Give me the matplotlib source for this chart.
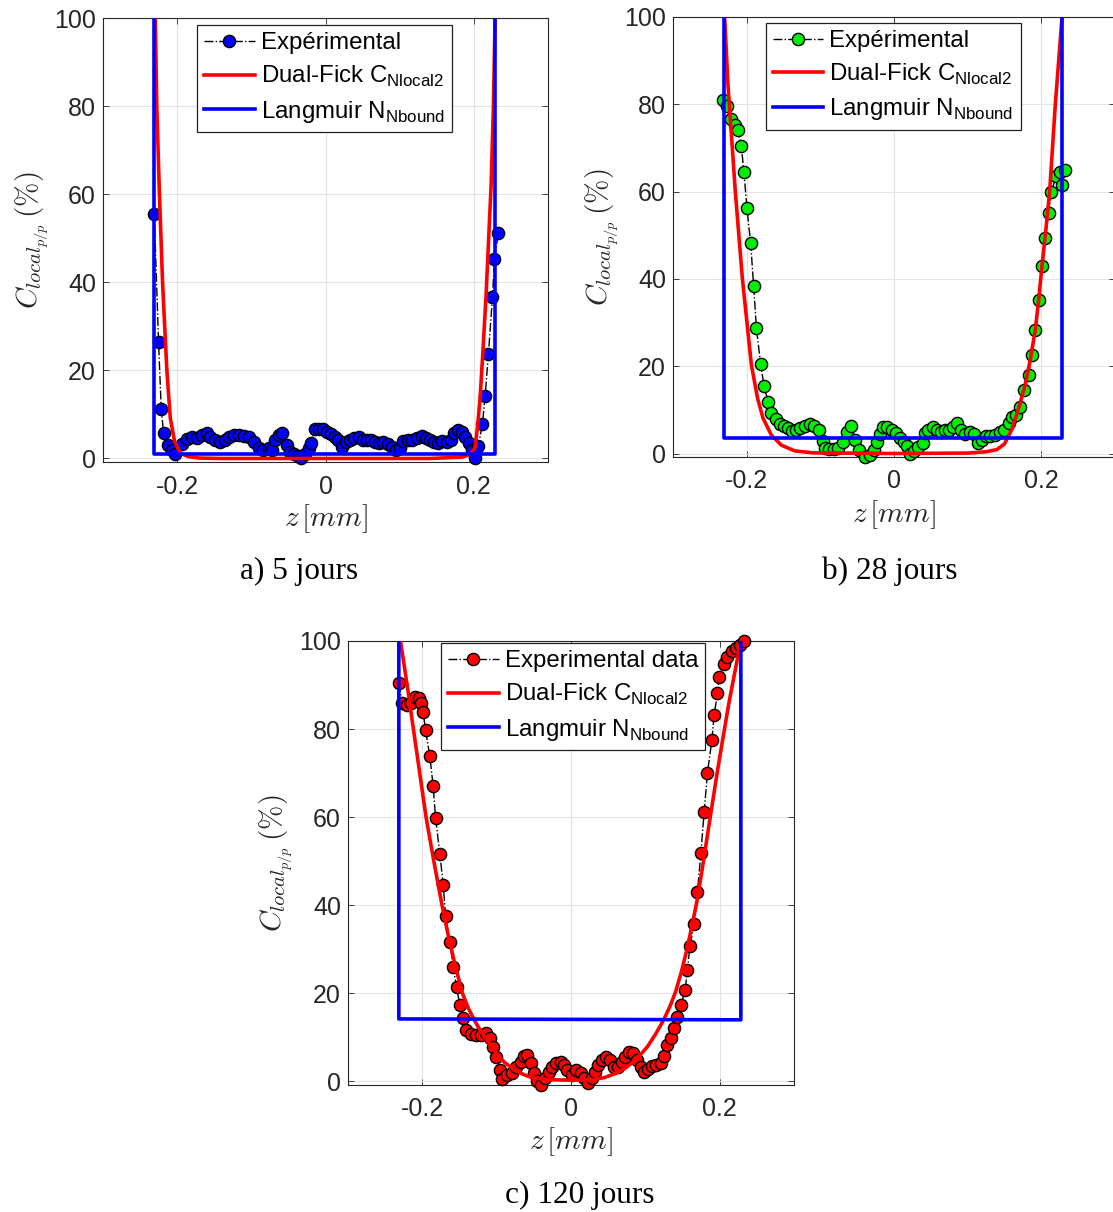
import matplotlib
matplotlib.use('Agg')
import matplotlib.pyplot as plt
from matplotlib.font_manager import FontProperties

plt.rcParams['font.family'] = ['Liberation Sans', 'DejaVu Sans']
plt.rcParams['axes.unicode_minus'] = False

# ---------------- data: a) 5 jours ----------------
z_exp_5 = [-0.2309, -0.2251, -0.2215, -0.2183, -0.2125, -0.2071, -0.2025, -0.1936, -0.1869, -0.1801,
           -0.1734, -0.1667, -0.1600, -0.1554, -0.1487, -0.1419, -0.1361, -0.1307, -0.1240, -0.1173,
           -0.1105, -0.1038, -0.0970, -0.0903, -0.0836, -0.0768, -0.0723, -0.0678, -0.0633, -0.0580,
           -0.0521, -0.0476, -0.0418, -0.0373, -0.0327, -0.0274, -0.0229, -0.0193, -0.0148, -0.0094,
           -0.0040, 0.0018, 0.0077, 0.0131, 0.0175, 0.0229, 0.0274, 0.0333, 0.0391, 0.0445,
           0.0499, 0.0557, 0.0616, 0.0670, 0.0724, 0.0782, 0.0840, 0.0894, 0.0948, 0.1007,
           0.1051, 0.1110, 0.1164, 0.1231, 0.1298, 0.1352, 0.1411, 0.1469, 0.1523, 0.1577,
           0.1635, 0.1694, 0.1739, 0.1792, 0.1846, 0.1883, 0.1937, 0.1972, 0.2018, 0.2062,
           0.2116, 0.2152, 0.2197, 0.2251, 0.2278, 0.2332]
c_exp_5 = [55.5, 26.4, 11.3, 5.7, 3.0, 1.9, 1.1, 3.4, 4.5, 4.9,
           4.7, 5.3, 5.7, 4.9, 4.1, 3.8, 4.3, 4.9, 5.3, 5.3,
           5.1, 4.9, 3.8, 2.4, 2.0, 2.4, 2.0, 4.3, 5.3, 5.7,
           3.0, 1.5, 1.0, 0.5, 0.0, 1.1, 2.3, 3.5, 6.6, 6.8,
           6.6, 6.0, 5.5, 4.9, 4.1, 2.6, 3.8, 4.3, 4.7, 4.9,
           4.3, 4.1, 4.3, 3.8, 3.5, 3.8, 3.2, 2.6, 1.9, 2.3,
           4.0, 4.3, 4.1, 4.7, 5.0, 4.7, 4.3, 3.8, 3.5, 4.0,
           3.8, 4.3, 5.7, 6.4, 6.0, 4.9, 3.5, 1.9, 0.0, 2.8,
           7.9, 14.1, 23.8, 36.6, 45.4, 51.3]
z_fick_5 = [-0.2295, -0.2275, -0.2241, -0.2197, -0.2139, -0.2093, -0.2035, -0.1958, -0.1846, -0.1700,
            -0.1400, 0.0, 0.1400, 0.1840, 0.1950, 0.2017, 0.2053, 0.2085, 0.2120, 0.2165,
            0.2200, 0.2233, 0.2264, 0.2287]
c_fick_5 = [100, 80, 61, 40, 20, 9.2, 3.9, 1.2, 0.4, 0.1,
            0.0, 0.0, 0.0, 0.3, 0.9, 2.5, 7.7, 13.9, 23.6, 37,
            50, 62, 80, 100]
z_lang_5 = [-0.231, -0.231, 0.228, 0.228]
c_lang_5 = [100, 1.0, 1.0, 100]

# ---------------- data: b) 28 jours ----------------
z_exp_28 = [-0.2322, -0.2263, -0.2218, -0.2163, -0.2118, -0.2072, -0.2037, -0.1996, -0.1946, -0.1905,
            -0.1868, -0.1810, -0.1765, -0.1710, -0.1664, -0.1605, -0.1550, -0.1497, -0.1438, -0.1378,
            -0.1324, -0.1270, -0.1211, -0.1143, -0.1088, -0.1016, -0.0970, -0.0939, -0.0880, -0.0816,
            -0.0758, -0.0690, -0.0635, -0.0585, -0.0530, -0.0472, -0.0395, -0.0327, -0.0272, -0.0236,
            -0.0190, -0.0145, -0.0091, -0.0031, 0.0027, 0.0082, 0.0136, 0.0181, 0.0218, 0.0272,
            0.0331, 0.0390, 0.0422, 0.0467, 0.0526, 0.0581, 0.0635, 0.0694, 0.0753, 0.0807,
            0.0853, 0.0907, 0.0966, 0.1034, 0.1088, 0.1147, 0.1193, 0.1252, 0.1306, 0.1374,
            0.1433, 0.1497, 0.1555, 0.1601, 0.1660, 0.1705, 0.1769, 0.1828, 0.1873, 0.1918,
            0.1964, 0.2009, 0.2054, 0.2100, 0.2136, 0.2204, 0.2259, 0.2281, 0.2327]
c_exp_28 = [81.1, 79.5, 76.6, 75.3, 74.0, 70.4, 64.4, 56.2, 48.2, 38.3,
            28.7, 20.5, 15.5, 11.9, 9.2, 7.8, 6.8, 6.2, 5.8, 5.2,
            5.5, 5.8, 6.3, 6.8, 6.3, 5.4, 2.9, 1.2, 1.0, 1.0,
            1.2, 2.7, 5.0, 6.3, 3.1, 0.8, -0.8, -0.3, 0.8, 2.7,
            4.4, 6.1, 6.0, 5.4, 4.6, 3.5, 2.7, 1.7, -0.1, 0.6,
            1.5, 2.5, 4.6, 5.5, 6.0, 5.4, 5.0, 5.4, 5.5, 6.1,
            6.9, 5.4, 4.4, 5.0, 4.4, 2.5, 3.2, 3.9, 4.0, 4.2,
            5.0, 5.5, 7.1, 8.4, 8.8, 10.7, 14.5, 18.0, 22.6, 28.3,
            35.2, 43.0, 49.4, 55.1, 60.0, 63.6, 64.6, 61.6, 64.9]
z_fick_28 = [-0.2299, -0.2254, -0.2154, -0.2059, -0.1936, -0.1850, -0.1778, -0.1664, -0.1528, -0.1347,
             -0.1100, 0.0, 0.1000, 0.1250, 0.1397, 0.1500, 0.1600, 0.1700, 0.1780, 0.1850,
             0.1918, 0.1964, 0.2009, 0.2054, 0.2113, 0.2190, 0.2281]
c_fick_28 = [100, 84.5, 60, 40.2, 20.3, 12.5, 8.1, 4.2, 1.9, 0.6,
             0.15, 0.0, 0.1, 0.4, 0.9, 2.2, 5.5, 10.8, 15.7, 21.5,
             28.3, 35.2, 43.0, 50.0, 60.0, 80.0, 100]
z_lang_28 = [-0.2309, -0.2309, 0.2280, 0.2280]
c_lang_28 = [100, 3.6, 3.6, 100]

# ---------------- data: c) 120 jours ----------------
z_exp_120 = [-0.2316, -0.2272, -0.2213, -0.2159, -0.2092, -0.2047, -0.2024, -0.1989, -0.1957, -0.1899,
             -0.1854, -0.1822, -0.1764, -0.1719, -0.1687, -0.1630, -0.1585, -0.1540, -0.1495, -0.1451,
             -0.1418, -0.1350, -0.1284, -0.1217, -0.1149, -0.1095, -0.1051, -0.1006, -0.0960, -0.0925,
             -0.0858, -0.0790, -0.0745, -0.0678, -0.0633, -0.0588, -0.0543, -0.0498, -0.0453, -0.0408,
             -0.0350, -0.0296, -0.0251, -0.0197, -0.0139, -0.0094, -0.0050, 0.0009, 0.0072, 0.0131,
             0.0175, 0.0233, 0.0287, 0.0323, 0.0368, 0.0422, 0.0467, 0.0521, 0.0579, 0.0637,
             0.0683, 0.0727, 0.0781, 0.0835, 0.0893, 0.0939, 0.0983, 0.1041, 0.1095, 0.1149,
             0.1208, 0.1253, 0.1297, 0.1343, 0.1387, 0.1432, 0.1477, 0.1535, 0.1567, 0.1599,
             0.1657, 0.1701, 0.1747, 0.1791, 0.1836, 0.1895, 0.1926, 0.1970, 0.1993, 0.2061,
             0.2105, 0.2164, 0.2218, 0.2272, 0.2330]
c_exp_120 = [90.4, 86.0, 85.5, 86.0, 87.2, 87.0, 86.0, 83.8, 79.8, 73.8,
             67.0, 59.8, 51.6, 44.7, 37.5, 31.7, 26.0, 21.4, 17.4, 14.3,
             11.7, 10.8, 10.6, 10.6, 11.0, 9.8, 7.9, 5.6, 2.6, 0.6,
             1.5, 1.9, 3.4, 4.5, 5.8, 6.0, 4.1, 1.9, 0.0, -0.8,
             0.7, 2.2, 3.4, 4.1, 4.5, 3.8, 2.6, 1.5, 2.5, 1.9,
             0.7, -0.4, 0.7, 2.2, 3.8, 4.9, 5.5, 4.9, 3.4, 3.3,
             4.5, 5.6, 6.8, 6.4, 4.9, 3.4, 2.2, 2.8, 3.5, 3.8,
             4.1, 5.8, 8.3, 9.8, 12.1, 14.7, 17.3, 20.7, 25.4, 30.7,
             35.8, 43.1, 51.8, 61.1, 70.1, 77.5, 83.3, 88.1, 91.8, 94.7,
             96.4, 97.7, 98.4, 99.2, 100.0]
z_fick_120 = [-0.2294, -0.2200, -0.2120, -0.2035, -0.1950, -0.1845, -0.1735, -0.1643, -0.1550, -0.1460,
              -0.1380, -0.1306, -0.1200, -0.1080, -0.0990, -0.0900, -0.0790, -0.0680, -0.0580, -0.0480,
              -0.0300, 0.0, 0.0300, 0.0450, 0.0600, 0.0720, 0.0826, 0.0930, 0.1028, 0.1140,
              0.1253, 0.1335, 0.1410, 0.1490, 0.1560, 0.1625, 0.1690, 0.1770, 0.1850, 0.1975,
              0.2125, 0.2285]
c_fick_120 = [100, 89.5, 80, 70, 60, 50, 40, 32.5, 25.8, 20,
              16.6, 14.1, 11.0, 8.1, 6.2, 4.4, 3.0, 1.9, 1.2, 0.75,
              0.4, 0.3, 0.4, 0.9, 1.8, 2.9, 4.3, 6.0, 7.9, 10.8,
              14.2, 17.2, 20.5, 25.2, 30.0, 35.2, 40.5, 48.7, 57.5, 71.0,
              86.0, 100]
z_lang_120 = [-0.2316, -0.2316, 0.2285, 0.2285]
c_lang_120 = [100, 14.2, 14.0, 100]

x_ticks = [-0.2, 0, 0.2]
x_tick_labels = ['-0.2', '0', '0.2']
y_ticks = [0, 20, 40, 60, 80, 100]
fick_label = r'Dual-Fick C$_{\mathregular{Nlocal2}}$'
lang_label = r'Langmuir N$_{\mathregular{Nbound}}$'

W, H = 1113, 1212
fig = plt.figure(figsize=(W / 100, H / 100), dpi=100)
AX_COL = '#262626'


def px_rect(left, top, right, bottom):
    return [left / W, 1 - bottom / H, (right - left) / W, (bottom - top) / H]


def panel(rect, z_exp, c_exp, col, exp_label, zf, cf, zl, cl, leg_anchor, ylab_x, xlab_y):
    ax = fig.add_axes(rect)
    ax.plot(z_exp, c_exp, linestyle='-.', color='black', lw=1.0, marker='o', ms=8.8,
            mfc=col, mec='black', mew=1.0, label=exp_label, clip_on=False, zorder=3)
    ax.plot(zf, cf, color='#ff0000', lw=2.6, label=fick_label, zorder=4)
    ax.plot(zl, cl, color='#0000ff', lw=2.6, label=lang_label, zorder=5)
    ax.set_xlim(-0.3, 0.3)
    ax.set_ylim(-0.8, 100)
    ax.set_xticks(x_ticks)
    ax.set_xticklabels(x_tick_labels)
    ax.set_yticks(y_ticks)
    ax.grid(True, color='#e3e3e3', lw=0.8)
    ax.set_axisbelow(True)
    for s in ax.spines.values():
        s.set_color(AX_COL)
        s.set_linewidth(0.8)
    ax.tick_params(direction='in', top=True, right=True, length=4, width=0.6,
                   colors=AX_COL, labelsize=18)
    ax.tick_params(axis='x', pad=9)
    ax.tick_params(axis='y', pad=5)
    ax.set_ylabel(r'$C_{local_{p/p}}\,(\%)$', math_fontfamily='cm', fontsize=21,
                  color=AX_COL, va='center')
    ax.yaxis.set_label_coords(ylab_x, 0.5)
    ax.set_xlabel(r'$z\,[mm]$', math_fontfamily='cm', fontsize=21, color=AX_COL, va='center')
    ax.xaxis.set_label_coords(0.5, xlab_y)
    leg = ax.legend(loc='upper left', bbox_to_anchor=leg_anchor, borderaxespad=0,
                    frameon=True, fancybox=False, framealpha=1, edgecolor='#202020',
                    prop=FontProperties(family='Liberation Sans', size=17.3),
                    handlelength=2.1, handletextpad=0.25, labelspacing=0.4,
                    borderpad=0.3, numpoints=1)
    leg.get_frame().set_linewidth(0.9)
    return ax


panel(px_rect(103, 18, 548, 462), z_exp_5, c_exp_5, '#0000ff', 'Expérimental',
      z_fick_5, c_fick_5, z_lang_5, c_lang_5, (0.211, 0.984), -0.158, -0.128)
panel(px_rect(673, 17, 1115, 457), z_exp_28, c_exp_28, '#00ee00', 'Expérimental',
      z_fick_28, c_fick_28, z_lang_28, c_lang_28, (0.210, 0.987), -0.160, -0.132)
panel(px_rect(348, 641, 794, 1085), z_exp_120, c_exp_120, '#ff0000', 'Experimental data',
      z_fick_120, c_fick_120, z_lang_120, c_lang_120, (0.2085, 0.995), -0.160, -0.128)

cap_font = dict(family='Liberation Serif', size=22.5, ha='center', va='center', color='black')
fig.text(299 / W, 1 - 571 / H, 'a) 5 jours', **cap_font)
fig.text(890 / W, 1 - 571 / H, 'b) 28 jours', **cap_font)
fig.text(580 / W, 1 - 1195 / H, 'c) 120 jours', **cap_font)

fig.savefig('out.png', dpi=100)
